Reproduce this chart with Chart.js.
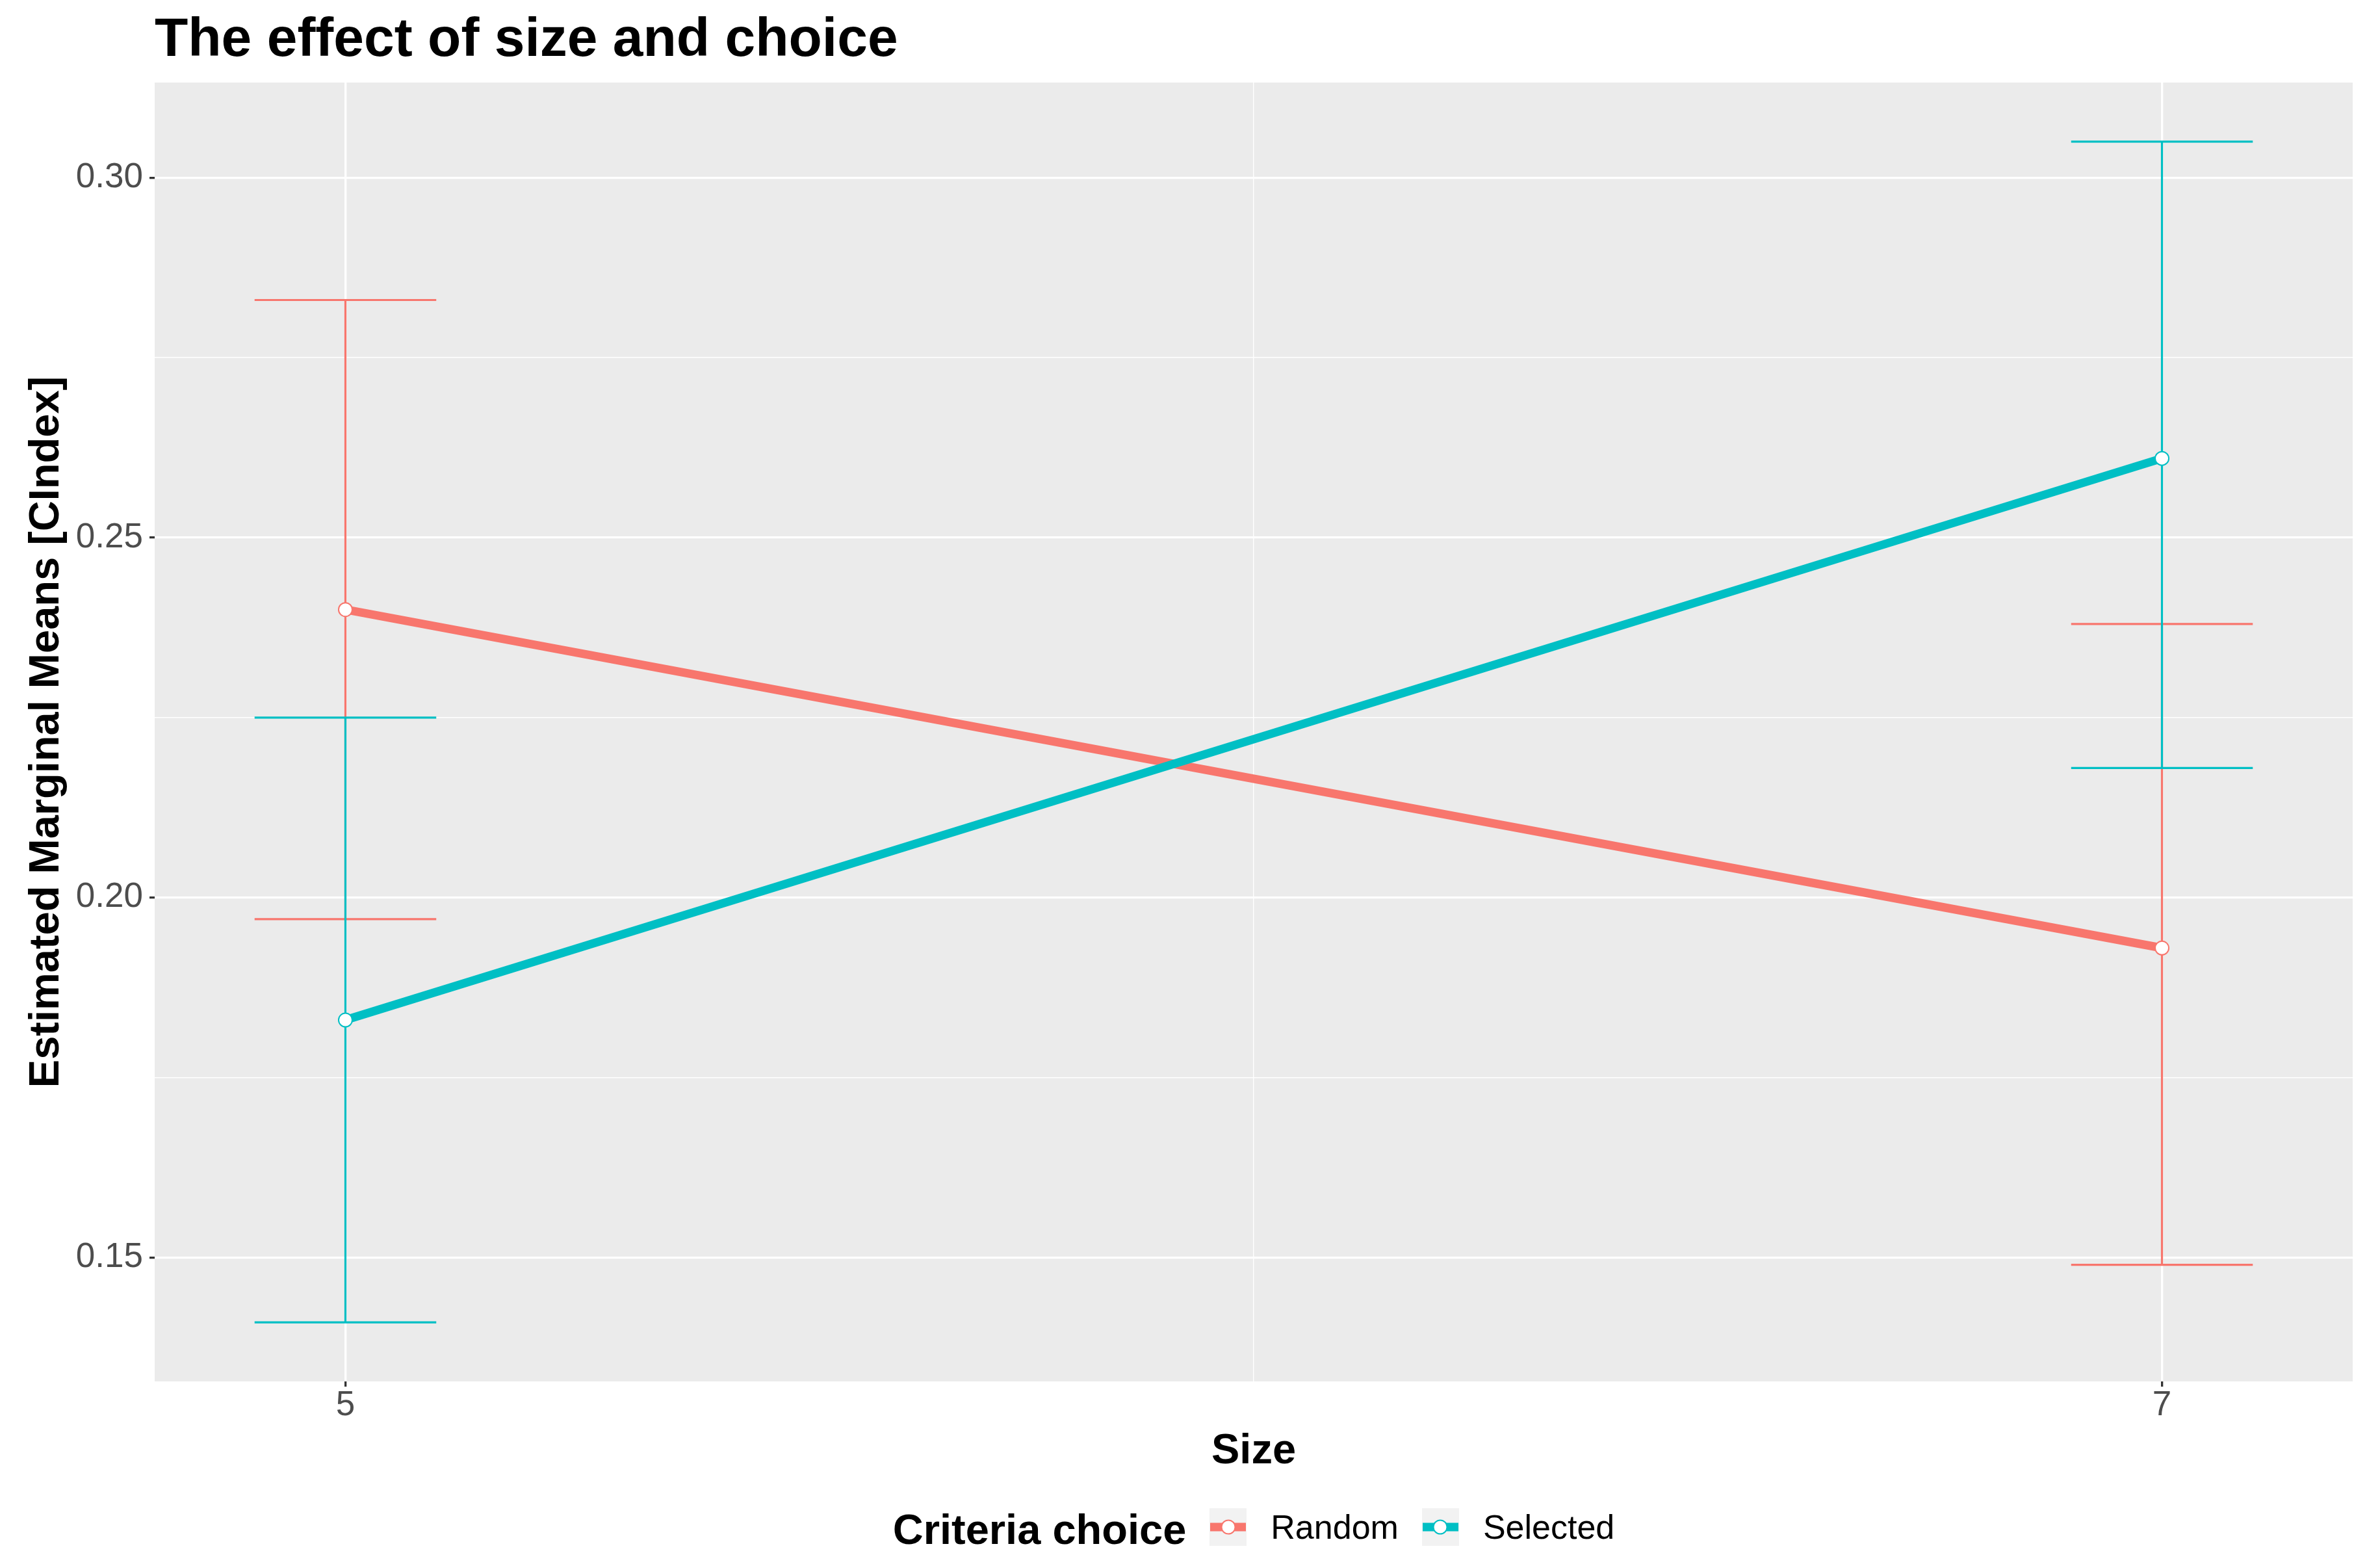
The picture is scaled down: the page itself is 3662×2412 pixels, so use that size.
<!DOCTYPE html>
<html><head><meta charset="utf-8">
<script src="https://cdn.jsdelivr.net/npm/chart.js@4.4.1/dist/chart.umd.min.js"></script>
<style>
html,body{margin:0;padding:0;background:#fff;}
#wrap{position:relative;width:3662px;height:2412px;overflow:hidden;}
#c{position:absolute;left:0;top:0;}
#legend{position:absolute;left:238px;width:3382px;top:2320px;height:58px;display:flex;justify-content:center;align-items:center;font-family:'Liberation Sans',Arial,sans-serif;color:#000;}
#legend .ttl{font-size:65px;font-weight:bold;line-height:1;margin-right:36px;position:relative;top:3px;white-space:nowrap;}
#legend .key{width:57px;height:58px;background:#F2F2F2;position:relative;flex:none;}
#legend .key .ln{position:absolute;left:1px;right:1px;top:50%;height:13px;transform:translateY(-50%);}
#legend .key .pt{position:absolute;left:50%;top:50%;width:23px;height:23px;transform:translate(-50%,-50%);background:#fff;border-radius:50%;box-sizing:border-box;border:2px solid;}
#legend .lab{font-size:52px;line-height:1;margin-left:37px;margin-right:36px;white-space:nowrap;}
#legend .lab:last-child{margin-right:0;}
</style></head><body>
<div id="wrap"><canvas id="c" width="3662" height="2412"></canvas><div id="legend"></div></div>
<script>
// ---- data ----
const sizes = [5, 7];
const seriesNames = ['Random', 'Selected'];
const randomMean = [0.240, 0.193];
const randomLower = [0.197, 0.149];
const randomUpper = [0.283, 0.238];
const selectedMean = [0.183, 0.261];
const selectedLower = [0.141, 0.218];
const selectedUpper = [0.225, 0.305];
const xTickValues = [5, 7];
const xTickLabels = ['5', '7'];
const xMinorTicks = [6];
const yTickValues = [0.15, 0.20, 0.25, 0.30];
const yTickLabels = ['0.15', '0.20', '0.25', '0.30'];
const yMinorTicks = [0.175, 0.225, 0.275];
const titleText = 'The effect of size and choice';
const xTitle = 'Size';
const yTitle = 'Estimated Marginal Means [CIndex]';
const legendTitle = 'Criteria choice';
const errorbarHalfWidth = 0.1;

// ---- styles ----
const seriesColors = ['#F8766D', '#00BFC4'];
const FAM = "'Liberation Sans', Arial, sans-serif";

const near = (a, b) => Math.abs(a - b) < 1e-9;
const idxIn = (arr, v) => arr.findIndex(t => near(t, v));

// ranges (ggplot-style 5% expansion)
const allLo = randomLower.concat(selectedLower), allHi = randomUpper.concat(selectedUpper);
const yLo = Math.min(...allLo), yHi = Math.max(...allHi), yPad = (yHi - yLo) * 0.05;
const xLo = Math.min(...sizes) - errorbarHalfWidth, xHi = Math.max(...sizes) + errorbarHalfWidth, xPad = (xHi - xLo) * 0.05;

function errorbarData(lo, hi) {
  const pts = [];
  sizes.forEach((x, i) => {
    pts.push({x: x - errorbarHalfWidth, y: hi[i]}, {x: x + errorbarHalfWidth, y: hi[i]}, {x: x + errorbarHalfWidth, y: null});
    pts.push({x: x, y: hi[i]}, {x: x, y: lo[i]}, {x: x, y: null});
    pts.push({x: x - errorbarHalfWidth, y: lo[i]}, {x: x + errorbarHalfWidth, y: lo[i]}, {x: x + errorbarHalfWidth, y: null});
  });
  return pts;
}
function meanData(m) { return sizes.map((x, i) => ({x: x, y: m[i]})); }

const series = [
  {name: seriesNames[0], mean: randomMean, lo: randomLower, hi: randomUpper, color: seriesColors[0]},
  {name: seriesNames[1], mean: selectedMean, lo: selectedLower, hi: selectedUpper, color: seriesColors[1]}
];
const datasets = [];
series.forEach((s, k) => {
  datasets.push({label: s.name + ' CI', data: errorbarData(s.lo, s.hi), borderColor: s.color, borderWidth: 3.2,
    pointRadius: 0, fill: false, tension: 0, spanGaps: false, order: 10 - 2 * k});
  datasets.push({label: s.name, data: meanData(s.mean), borderColor: s.color, borderWidth: 13, tension: 0, fill: false,
    pointRadius: 10.5, pointBorderWidth: 2, pointBackgroundColor: '#FFFFFF', pointBorderColor: s.color, order: 9 - 2 * k});
});

const panelBg = {
  id: 'panelBg',
  beforeDraw(chart) {
    const {ctx, chartArea: a} = chart;
    ctx.save();
    ctx.fillStyle = '#FFFFFF'; ctx.fillRect(0, 0, chart.width, chart.height);
    ctx.fillStyle = '#EBEBEB'; ctx.fillRect(a.left, a.top, a.right - a.left, a.bottom - a.top);
    ctx.restore();
  }
};

new Chart(document.getElementById('c'), {
  type: 'line',
  data: {datasets},
  plugins: [panelBg],
  options: {
    responsive: false, animation: false, devicePixelRatio: 1, events: [],
    layout: {padding: {left: 0, right: 42, top: 0, bottom: 0}},
    plugins: {
      legend: {display: false}, tooltip: {enabled: false},
      title: {display: true, text: titleText, align: 'start', fullSize: false, color: '#000000',
        font: {family: FAM, size: 84, weight: 'bold', lineHeight: 1.2}, padding: {top: 12.2, bottom: 14}}
    },
    scales: {
      x: {
        type: 'linear', min: xLo - xPad, max: xHi + xPad, bounds: 'data',
        afterBuildTicks: s => { s.ticks = xTickValues.concat(xMinorTicks).sort((a, b) => a - b).map(v => ({value: v})); },
        afterFit: s => { s.height = 287; },
        ticks: {autoSkip: false, maxRotation: 0, minRotation: 0, padding: 3, color: '#4D4D4D',
          font: {family: FAM, size: 53, lineHeight: 1},
          callback: v => { const i = idxIn(xTickValues, v); return i >= 0 ? xTickLabels[i] : ''; }},
        grid: {color: '#FFFFFF', lineWidth: c => idxIn(xTickValues, c.tick.value) >= 0 ? 3.3 : 1.4,
          tickColor: c => idxIn(xTickValues, c.tick.value) >= 0 ? '#333333' : 'rgba(0,0,0,0)', tickWidth: 3.3, tickLength: 8, drawTicks: true},
        border: {display: false},
        title: {display: true, text: xTitle, color: '#000000', font: {family: FAM, size: 65, weight: 'bold', lineHeight: 1.2},
          padding: {top: 0, bottom: 140}}
      },
      y: {
        type: 'linear', min: yLo - yPad, max: yHi + yPad, bounds: 'data',
        afterBuildTicks: s => { s.ticks = yTickValues.concat(yMinorTicks).sort((a, b) => a - b).map(v => ({value: v})); },
        afterFit: s => { s.width = 238; },
        ticks: {autoSkip: false, padding: 10, color: '#4D4D4D', font: {family: FAM, size: 53, lineHeight: 1},
          callback: v => { const i = idxIn(yTickValues, v); return i >= 0 ? yTickLabels[i] : ''; }},
        grid: {color: '#FFFFFF', lineWidth: c => idxIn(yTickValues, c.tick.value) >= 0 ? 3.3 : 1.6,
          tickColor: c => idxIn(yTickValues, c.tick.value) >= 0 ? '#333333' : 'rgba(0,0,0,0)', tickWidth: 3.3, tickLength: 8, drawTicks: true},
        border: {display: false},
        title: {display: true, text: yTitle, color: '#000000', font: {family: FAM, size: 65, weight: 'bold', lineHeight: 1.2},
          padding: {top: 33.5, bottom: 0}}
      }
    }
  }
});

// legend (HTML, built from series arrays)
const lg = document.getElementById('legend');
const t = document.createElement('span'); t.className = 'ttl'; t.textContent = legendTitle; lg.appendChild(t);
series.forEach(s => {
  const key = document.createElement('div'); key.className = 'key';
  const ln = document.createElement('div'); ln.className = 'ln'; ln.style.background = s.color; key.appendChild(ln);
  const pt = document.createElement('div'); pt.className = 'pt'; pt.style.borderColor = s.color; key.appendChild(pt);
  lg.appendChild(key);
  const lab = document.createElement('span'); lab.className = 'lab'; lab.textContent = s.name; lg.appendChild(lab);
});
</script>
</body></html>
